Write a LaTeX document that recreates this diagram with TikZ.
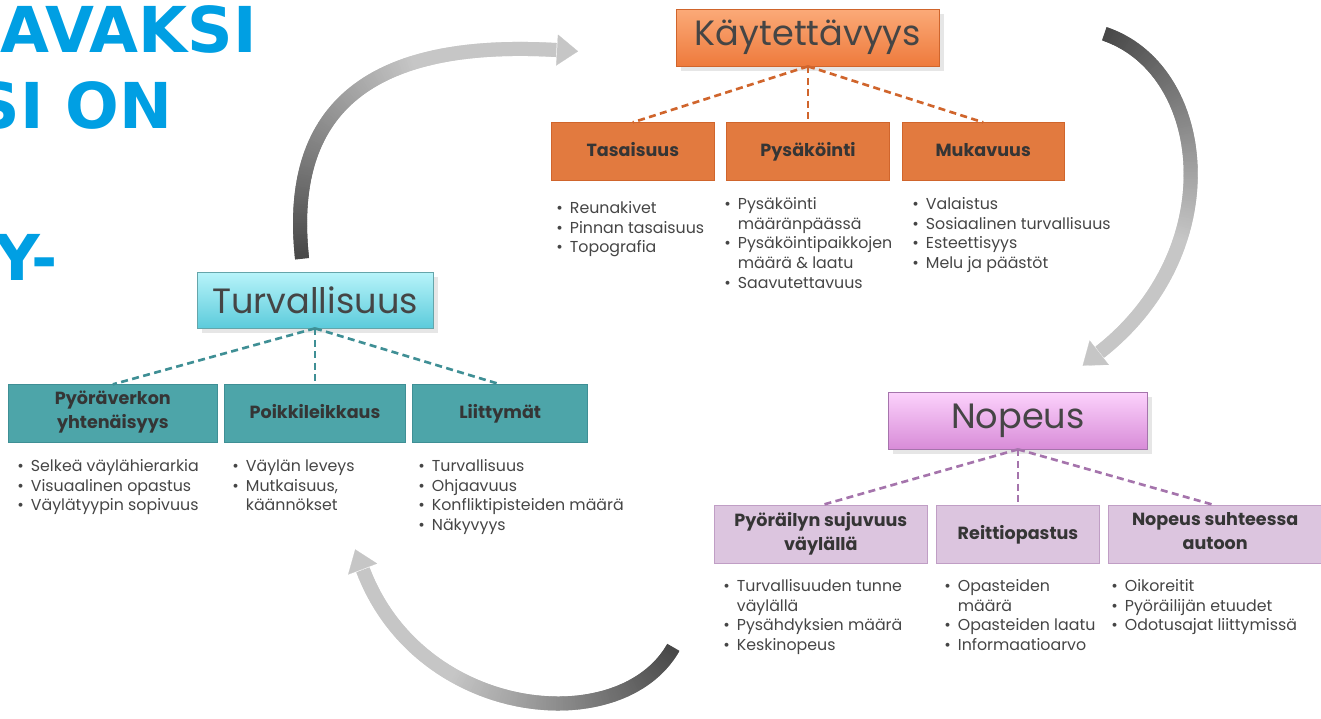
\documentclass[tikz,border=0pt]{standalone}
\usepackage{fontspec}
\setmainfont{Poppins}
\newfontfamily\titlefont{DejaVu Sans}
\usepackage{tikz}
\usetikzlibrary{positioning}
\usetikzlibrary{decorations.markings,shadows,arrows.meta}

\definecolor{titleblue}{HTML}{009FE3}
\definecolor{txtgray}{HTML}{454545}
\definecolor{boxtxt}{HTML}{353535}
\definecolor{flowdark}{HTML}{484848}
\definecolor{flowlight}{HTML}{C6C6C6}
\definecolor{orTop}{HTML}{FBAA78}
\definecolor{orBot}{HTML}{EE7A3C}
\definecolor{orLine}{HTML}{D0652C}
\definecolor{orSub}{HTML}{E27A3F}
\definecolor{cyTop}{HTML}{B8F4FA}
\definecolor{cyBot}{HTML}{5CCBDB}
\definecolor{cyLine}{HTML}{3F8F95}
\definecolor{cySub}{HTML}{4DA5A9}
\definecolor{piTop}{HTML}{FCD2FC}
\definecolor{piBot}{HTML}{D88CD8}
\definecolor{piLine}{HTML}{A574AC}
\definecolor{piSub}{HTML}{DCC5DF}

\begin{document}
\begin{tikzpicture}[x=0.02cm, y=-0.02cm, node distance={1.12cm and 0.24cm},
    main/.style = {draw, rectangle, minimum height=1.14cm, text=txtgray,
        font=\fontsize{20}{24}\selectfont, drop shadow={opacity=0.2}},
    sub/.style = {draw, rectangle, minimum height=1.16cm, align=center, text=boxtxt,
        font=\bfseries\fontsize{10}{13.6}\selectfont,
        execute at begin node=\strut, execute at end node=\strut},
    items/.style = {anchor=north west, inner sep=0pt, text=txtgray,
        font=\fontsize{9}{11.3}\selectfont},
    link/.style = {line width=1.5pt, dash pattern=on 4pt off 2.5pt},
    title/.style = {anchor=base east, inner sep=0pt, text=titleblue,
        font=\titlefont\bfseries\fontsize{36}{40}\selectfont},
    flow/.style = {postaction={decorate}, decoration={markings,
        mark=between positions 0 and 1 step 0.5pt with {
            \pgfmathtruncatemacro\pct{100*min(1,1.6*(\pgfkeysvalueof{/pgf/decoration/mark info/distance from start}/\pgfdecoratedpathlength))}
            \fill[flowlight!\pct!flowdark] (-0.8,-7) rectangle (0.8,7);}}},
    head/.style = {flowlight, line width=0.1pt, -{Triangle[width=0.62cm, length=0.42cm]}}]
    \useasboundingbox (0,0) rectangle (1321,718);
    \clip (0,0) rectangle (1321,718);
    % Title
    \node[title] (t1) at (257,52) {AVAKSI};
    \node[title] (t2) at (173,128) {SI ON};
    \node[title] (t3) at (58,280) {Y-};
    % Käytettävyys
    \node[main, top color=orTop, bottom color=orBot, draw=orLine, minimum width=5.26cm] (kay) at (808,37.5) {Käytettävyys};
    \node[sub, fill=orSub, draw=orLine, minimum width=3.25cm] (pys) [below=of kay] {Pysäköinti};
    \node[sub, fill=orSub, draw=orLine, minimum width=3.25cm] (tas) [left=of pys] {Tasaisuus};
    \node[sub, fill=orSub, draw=orLine, minimum width=3.25cm] (muk) [right=of pys] {Mukavuus};
    \foreach \s in {tas,pys,muk}
        \draw[link, orLine] (kay.south) -- (\s.north);
    \node[items] (tasL) at (556,199) {\begin{tabular}{@{}l@{\hspace{4pt}}l@{}}
        • & Reunakivet\\ • & Pinnan tasaisuus\\ • & Topografia\end{tabular}};
    \node[items] (pysL) at (724,195) {\begin{tabular}{@{}l@{\hspace{4pt}}l@{}}
        • & Pysäköinti\\ & määränpäässä\\ • & Pysäköintipaikkojen\\ & määrä \& laatu\\ • & Saavutettavuus\end{tabular}};
    \node[items] (mukL) at (912,195) {\begin{tabular}{@{}l@{\hspace{4pt}}l@{}}
        • & Valaistus\\ • & Sosiaalinen turvallisuus\\ • & Esteettisyys\\ • & Melu ja päästöt\end{tabular}};
    % Turvallisuus
    \node[main, top color=cyTop, bottom color=cyBot, draw=cyLine!80, minimum width=4.72cm, minimum height=1.12cm] (tur) at (315,300) {Turvallisuus};
    \node[sub, fill=cySub, draw=cyLine, minimum width=3.62cm] (poi) [below=of tur] {Poikkileikkaus};
    \node[sub, fill=cySub, draw=cyLine, minimum width=4.18cm] (pyv) [left=0.13cm of poi] {Pyöräverkon\\yhtenäisyys};
    \node[sub, fill=cySub, draw=cyLine, minimum width=3.5cm] (lii) [right=0.13cm of poi] {Liittymät};
    \foreach \s in {pyv,poi,lii}
        \draw[link, cyLine] (tur.south) -- (\s.north);
    \node[items] (pyvL) at (17,457) {\begin{tabular}{@{}l@{\hspace{4pt}}l@{}}
        • & Selkeä väylähierarkia\\ • & Visuaalinen opastus\\ • & Väylätyypin sopivuus\end{tabular}};
    \node[items] (poiL) at (232,457) {\begin{tabular}{@{}l@{\hspace{4pt}}l@{}}
        • & Väylän leveys\\ • & Mutkaisuus,\\ & käännökset\end{tabular}};
    \node[items] (liiL) at (418,457) {\begin{tabular}{@{}l@{\hspace{4pt}}l@{}}
        • & Turvallisuus\\ • & Ohjaavuus\\ • & Konfliktipisteiden määrä\\ • & Näkyvyys\end{tabular}};
    % Nopeus
    \node[main, top color=piTop, bottom color=piBot, draw=piLine, minimum width=5.18cm] (nop) at (1018,420.5) {Nopeus};
    \node[sub, fill=piSub, draw=piLine!70, minimum width=3.26cm] (rei) [below=of nop] {Reittiopastus};
    \node[sub, fill=piSub, draw=piLine!70, minimum width=4.28cm] (suj) [left=0.16cm of rei] {Pyöräilyn sujuvuus\\väylällä};
    \node[sub, fill=piSub, draw=piLine!70, minimum width=4.28cm] (aut) [right=0.16cm of rei] {Nopeus suhteessa\\autoon};
    \foreach \s in {suj,rei,aut}
        \draw[link, piLine] (nop.south) -- (\s.north);
    \node[items] (sujL) at (723,577) {\begin{tabular}{@{}l@{\hspace{4pt}}l@{}}
        • & Turvallisuuden tunne\\ & väylällä\\ • & Pysähdyksien määrä\\ • & Keskinopeus\end{tabular}};
    \node[items] (reiL) at (944,577) {\begin{tabular}{@{}l@{\hspace{4pt}}l@{}}
        • & Opasteiden\\ & määrä\\ • & Opasteiden laatu\\ • & Informaatioarvo\end{tabular}};
    \node[items] (autL) at (1111,577) {\begin{tabular}{@{}l@{\hspace{4pt}}l@{}}
        • & Oikoreitit\\ • & Pyöräilijän etuudet\\ • & Odotusajat liittymissä\end{tabular}};
    % Cycle arrows
    \coordinate (a1s) at (302,258);
    \coordinate (a1e) at (556,50);
    \coordinate (a1t) at (578,51.3);
    \coordinate (a2s) at (1105,34);
    \coordinate (a2e) at (1100,352);
    \coordinate (a2t) at (1082.7,365.6);
    \coordinate (a3s) at (673,648);
    \coordinate (a3e) at (363,570);
    \coordinate (a3t) at (355.2,549.4);
    \path[flow] (a1s) .. controls (285,100) and (380,40) .. (a1e);
    \path[flow] (a2s) .. controls (1210,70) and (1230,250) .. (a2e);
    \path[flow] (a3s) .. controls (620,740) and (420,720) .. (a3e);
    \draw[head] (a1e) -- (a1t);
    \draw[head] (a2e) -- (a2t);
    \draw[head] (a3e) -- (a3t);
\end{tikzpicture}
\end{document}
